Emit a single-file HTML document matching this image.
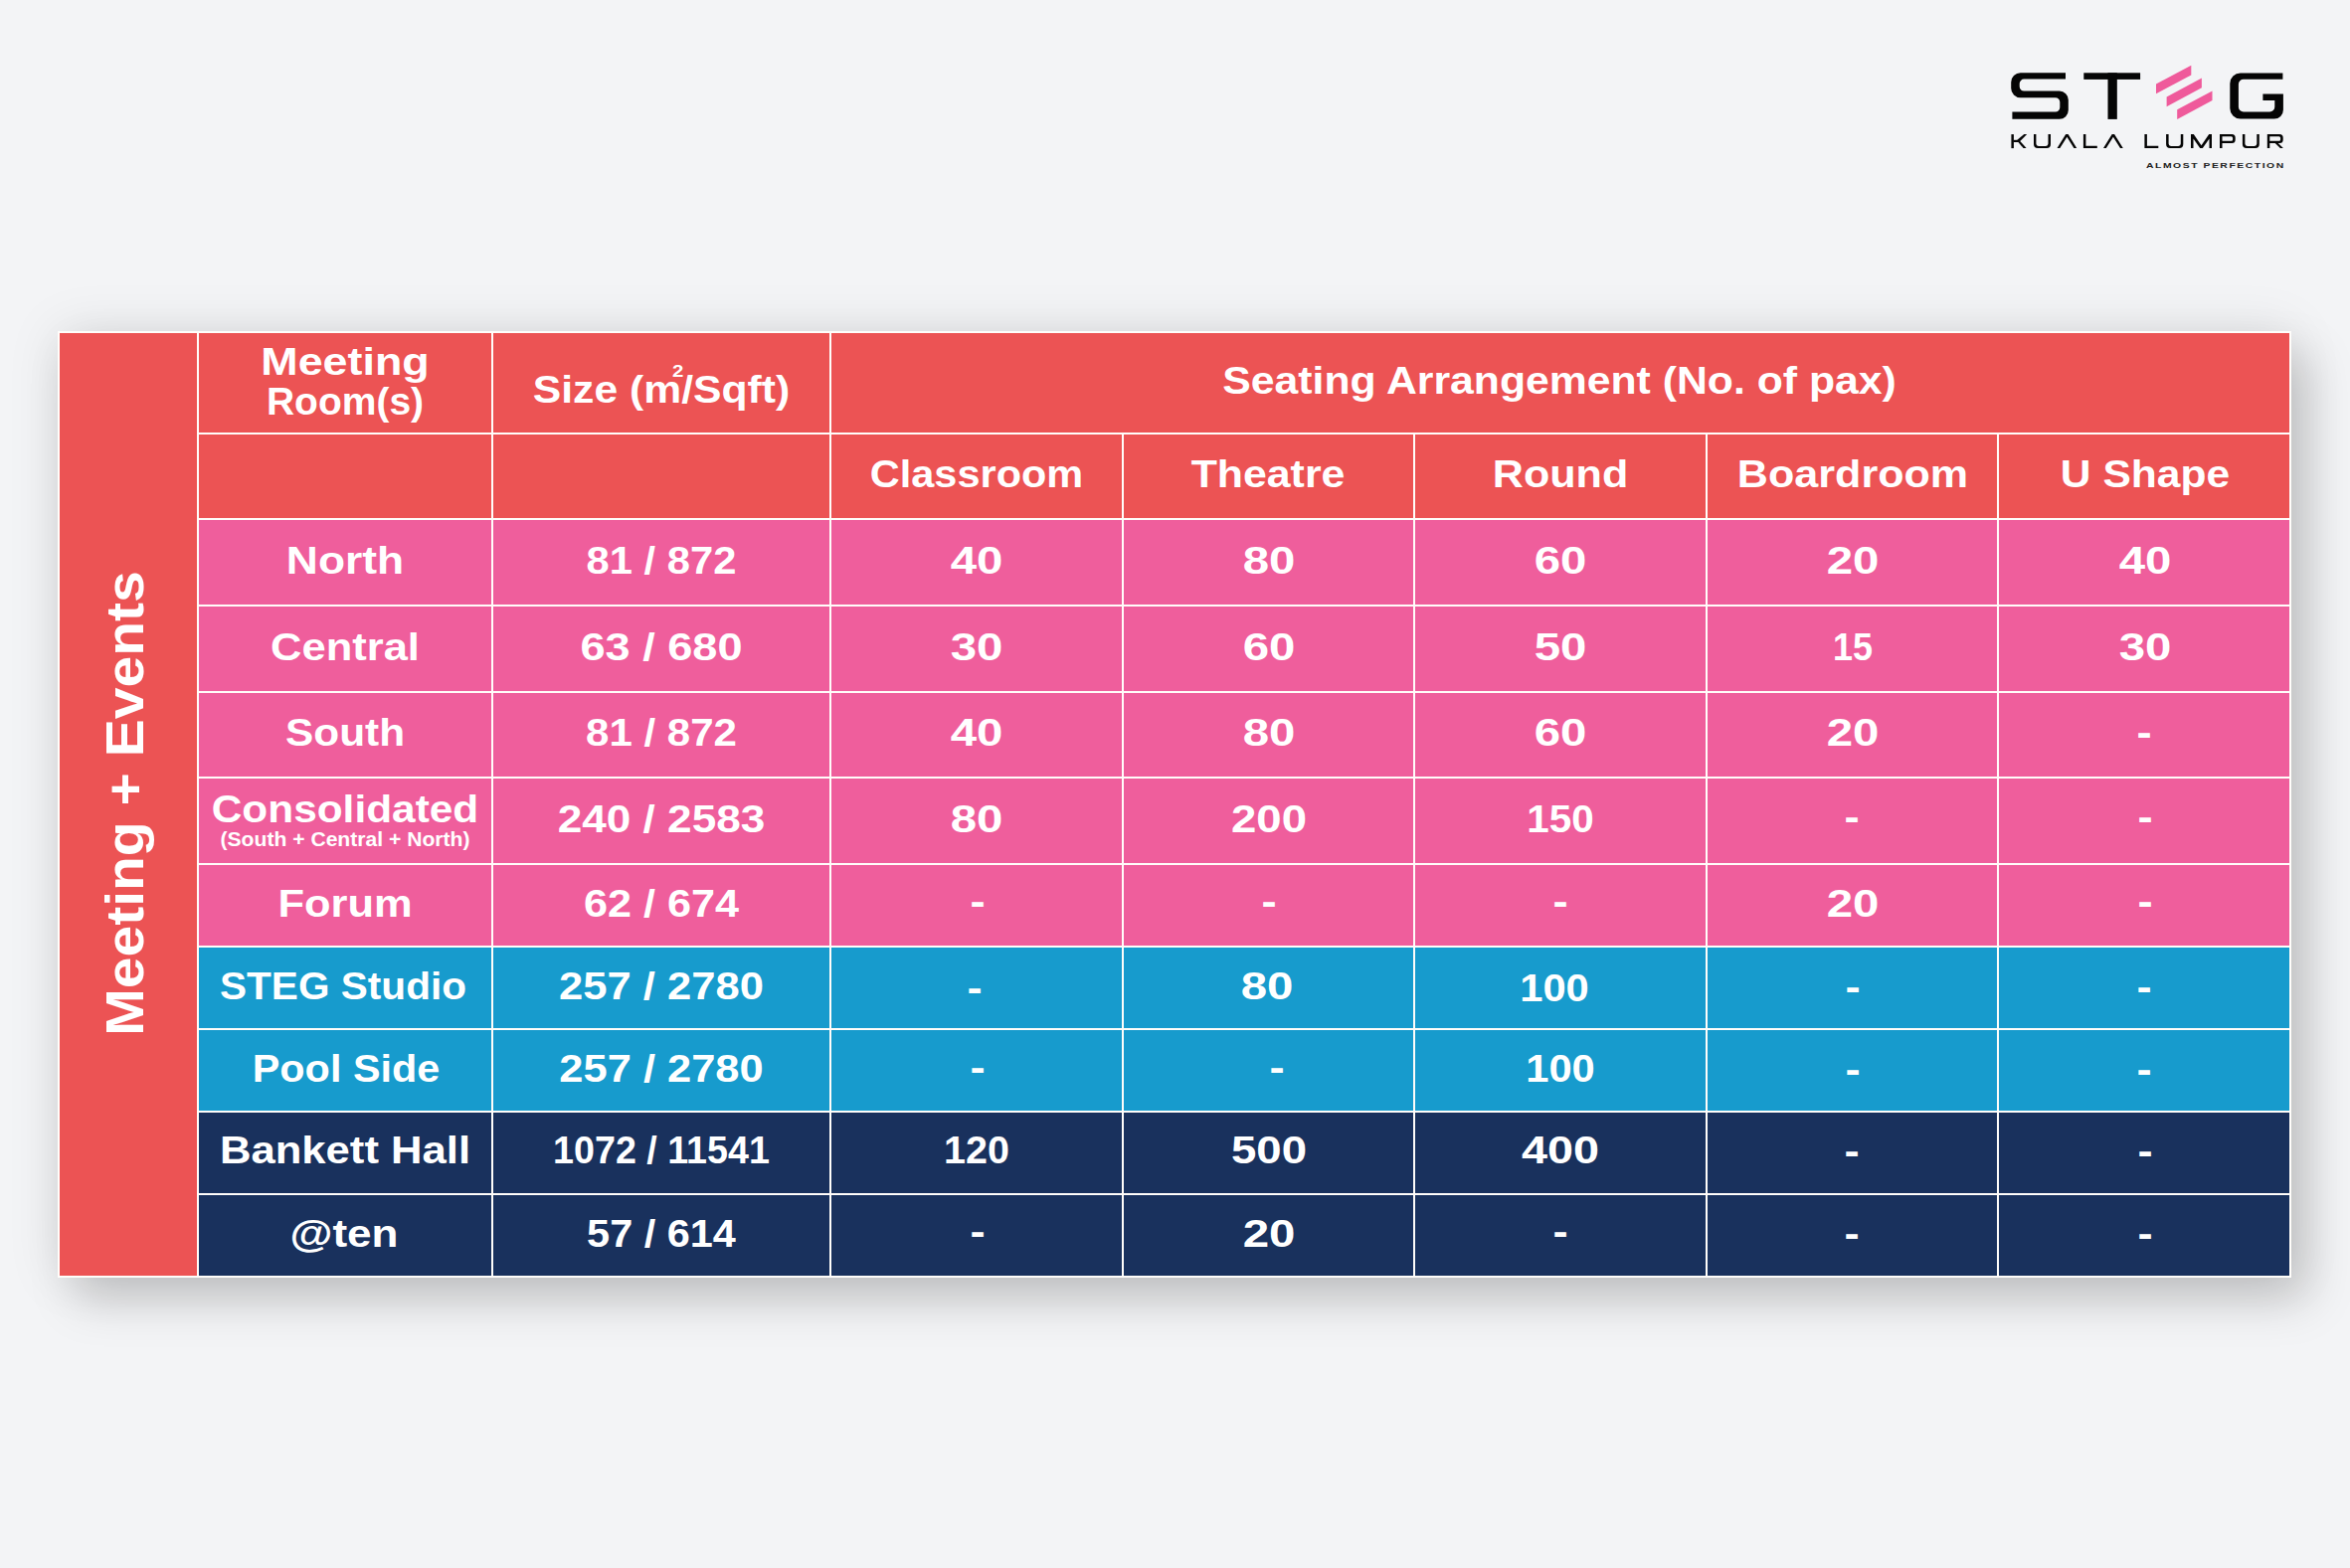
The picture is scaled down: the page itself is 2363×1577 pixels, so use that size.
<!DOCTYPE html><html><head><meta charset="utf-8"><title>STEG Kuala Lumpur - Meeting + Events</title><style>
html,body{margin:0;padding:0}
body{width:2363px;height:1577px;background:#F3F4F6;position:relative;overflow:hidden;font-family:"Liberation Sans",sans-serif}
.tbl{position:absolute;left:58px;top:333px;width:2246px;height:952px;background:#FFFDFA;box-shadow:0 0 50px rgba(0,0,0,0.10),18px 24px 44px rgba(0,0,0,0.17)}
.c{position:absolute}
.t{position:absolute;white-space:nowrap;font-weight:bold;color:#FFFFFF;line-height:normal;transform-origin:50% 50%}
.d{position:absolute;width:11px;height:5px;background:#FFFFFF}

</style></head><body>
<div class="tbl"></div>
<div class="c" style="left:60px;top:335px;width:138px;height:948px;background:#EC5354"></div>
<div class="c" style="left:200px;top:335px;width:294px;height:100px;background:#EC5354"></div>
<div class="c" style="left:496px;top:335px;width:338px;height:100px;background:#EC5354"></div>
<div class="c" style="left:836px;top:335px;width:1466px;height:100px;background:#EC5354"></div>
<div class="c" style="left:200px;top:437px;width:294px;height:84px;background:#EC5354"></div>
<div class="c" style="left:496px;top:437px;width:338px;height:84px;background:#EC5354"></div>
<div class="c" style="left:836px;top:437px;width:292px;height:84px;background:#EC5354"></div>
<div class="c" style="left:1130px;top:437px;width:291px;height:84px;background:#EC5354"></div>
<div class="c" style="left:1423px;top:437px;width:292px;height:84px;background:#EC5354"></div>
<div class="c" style="left:1717px;top:437px;width:291px;height:84px;background:#EC5354"></div>
<div class="c" style="left:2010px;top:437px;width:292px;height:84px;background:#EC5354"></div>
<div class="c" style="left:200px;top:523px;width:294px;height:85px;background:#EF5E9C"></div>
<div class="c" style="left:496px;top:523px;width:338px;height:85px;background:#EF5E9C"></div>
<div class="c" style="left:836px;top:523px;width:292px;height:85px;background:#EF5E9C"></div>
<div class="c" style="left:1130px;top:523px;width:291px;height:85px;background:#EF5E9C"></div>
<div class="c" style="left:1423px;top:523px;width:292px;height:85px;background:#EF5E9C"></div>
<div class="c" style="left:1717px;top:523px;width:291px;height:85px;background:#EF5E9C"></div>
<div class="c" style="left:2010px;top:523px;width:292px;height:85px;background:#EF5E9C"></div>
<div class="c" style="left:200px;top:610px;width:294px;height:85px;background:#EF5E9C"></div>
<div class="c" style="left:496px;top:610px;width:338px;height:85px;background:#EF5E9C"></div>
<div class="c" style="left:836px;top:610px;width:292px;height:85px;background:#EF5E9C"></div>
<div class="c" style="left:1130px;top:610px;width:291px;height:85px;background:#EF5E9C"></div>
<div class="c" style="left:1423px;top:610px;width:292px;height:85px;background:#EF5E9C"></div>
<div class="c" style="left:1717px;top:610px;width:291px;height:85px;background:#EF5E9C"></div>
<div class="c" style="left:2010px;top:610px;width:292px;height:85px;background:#EF5E9C"></div>
<div class="c" style="left:200px;top:697px;width:294px;height:84px;background:#EF5E9C"></div>
<div class="c" style="left:496px;top:697px;width:338px;height:84px;background:#EF5E9C"></div>
<div class="c" style="left:836px;top:697px;width:292px;height:84px;background:#EF5E9C"></div>
<div class="c" style="left:1130px;top:697px;width:291px;height:84px;background:#EF5E9C"></div>
<div class="c" style="left:1423px;top:697px;width:292px;height:84px;background:#EF5E9C"></div>
<div class="c" style="left:1717px;top:697px;width:291px;height:84px;background:#EF5E9C"></div>
<div class="c" style="left:2010px;top:697px;width:292px;height:84px;background:#EF5E9C"></div>
<div class="c" style="left:200px;top:783px;width:294px;height:85px;background:#EF5E9C"></div>
<div class="c" style="left:496px;top:783px;width:338px;height:85px;background:#EF5E9C"></div>
<div class="c" style="left:836px;top:783px;width:292px;height:85px;background:#EF5E9C"></div>
<div class="c" style="left:1130px;top:783px;width:291px;height:85px;background:#EF5E9C"></div>
<div class="c" style="left:1423px;top:783px;width:292px;height:85px;background:#EF5E9C"></div>
<div class="c" style="left:1717px;top:783px;width:291px;height:85px;background:#EF5E9C"></div>
<div class="c" style="left:2010px;top:783px;width:292px;height:85px;background:#EF5E9C"></div>
<div class="c" style="left:200px;top:870px;width:294px;height:81px;background:#EF5E9C"></div>
<div class="c" style="left:496px;top:870px;width:338px;height:81px;background:#EF5E9C"></div>
<div class="c" style="left:836px;top:870px;width:292px;height:81px;background:#EF5E9C"></div>
<div class="c" style="left:1130px;top:870px;width:291px;height:81px;background:#EF5E9C"></div>
<div class="c" style="left:1423px;top:870px;width:292px;height:81px;background:#EF5E9C"></div>
<div class="c" style="left:1717px;top:870px;width:291px;height:81px;background:#EF5E9C"></div>
<div class="c" style="left:2010px;top:870px;width:292px;height:81px;background:#EF5E9C"></div>
<div class="c" style="left:200px;top:953px;width:294px;height:81px;background:#179BCD"></div>
<div class="c" style="left:496px;top:953px;width:338px;height:81px;background:#179BCD"></div>
<div class="c" style="left:836px;top:953px;width:292px;height:81px;background:#179BCD"></div>
<div class="c" style="left:1130px;top:953px;width:291px;height:81px;background:#179BCD"></div>
<div class="c" style="left:1423px;top:953px;width:292px;height:81px;background:#179BCD"></div>
<div class="c" style="left:1717px;top:953px;width:291px;height:81px;background:#179BCD"></div>
<div class="c" style="left:2010px;top:953px;width:292px;height:81px;background:#179BCD"></div>
<div class="c" style="left:200px;top:1036px;width:294px;height:81px;background:#179BCD"></div>
<div class="c" style="left:496px;top:1036px;width:338px;height:81px;background:#179BCD"></div>
<div class="c" style="left:836px;top:1036px;width:292px;height:81px;background:#179BCD"></div>
<div class="c" style="left:1130px;top:1036px;width:291px;height:81px;background:#179BCD"></div>
<div class="c" style="left:1423px;top:1036px;width:292px;height:81px;background:#179BCD"></div>
<div class="c" style="left:1717px;top:1036px;width:291px;height:81px;background:#179BCD"></div>
<div class="c" style="left:2010px;top:1036px;width:292px;height:81px;background:#179BCD"></div>
<div class="c" style="left:200px;top:1119px;width:294px;height:81px;background:#19315D"></div>
<div class="c" style="left:496px;top:1119px;width:338px;height:81px;background:#19315D"></div>
<div class="c" style="left:836px;top:1119px;width:292px;height:81px;background:#19315D"></div>
<div class="c" style="left:1130px;top:1119px;width:291px;height:81px;background:#19315D"></div>
<div class="c" style="left:1423px;top:1119px;width:292px;height:81px;background:#19315D"></div>
<div class="c" style="left:1717px;top:1119px;width:291px;height:81px;background:#19315D"></div>
<div class="c" style="left:2010px;top:1119px;width:292px;height:81px;background:#19315D"></div>
<div class="c" style="left:200px;top:1202px;width:294px;height:81px;background:#19315D"></div>
<div class="c" style="left:496px;top:1202px;width:338px;height:81px;background:#19315D"></div>
<div class="c" style="left:836px;top:1202px;width:292px;height:81px;background:#19315D"></div>
<div class="c" style="left:1130px;top:1202px;width:291px;height:81px;background:#19315D"></div>
<div class="c" style="left:1423px;top:1202px;width:292px;height:81px;background:#19315D"></div>
<div class="c" style="left:1717px;top:1202px;width:291px;height:81px;background:#19315D"></div>
<div class="c" style="left:2010px;top:1202px;width:292px;height:81px;background:#19315D"></div>
<div class="t" style="left:347.0px;top:341.23px;font-size:39.5px;transform:translateX(-50%) scaleX(1.1347)">Meeting</div>
<div class="t" style="left:347.0px;top:380.83px;font-size:39.5px;transform:translateX(-50%) scaleX(0.9871)">Room(s)</div>
<div class="t" style="left:664.5px;top:369.23px;font-size:39.5px;transform:translateX(-50%) scaleX(1.0805)">Size (m/Sqft)</div>
<div class="t" style="left:1568.0px;top:360.03px;font-size:39.5px;transform:translateX(-50%) scaleX(1.0819)">Seating Arrangement (No. of pax)</div>
<div class="t" style="left:982.0px;top:454.23px;font-size:39.5px;transform:translateX(-50%) scaleX(1.0500)">Classroom</div>
<div class="t" style="left:1275.0px;top:454.23px;font-size:39.5px;transform:translateX(-50%) scaleX(1.0845)">Theatre</div>
<div class="t" style="left:1568.6px;top:454.23px;font-size:39.5px;transform:translateX(-50%) scaleX(1.0917)">Round</div>
<div class="t" style="left:1863.0px;top:454.23px;font-size:39.5px;transform:translateX(-50%) scaleX(1.0913)">Boardroom</div>
<div class="t" style="left:2157.0px;top:454.23px;font-size:39.5px;transform:translateX(-50%) scaleX(1.0774)">U Shape</div>
<div class="t" style="left:347.0px;top:541.03px;font-size:39.5px;transform:translateX(-50%) scaleX(1.1230)">North</div>
<div class="t" style="left:665.0px;top:541.03px;font-size:39.5px;transform:translateX(-50%) scaleX(1.0571)">81 / 872</div>
<div class="t" style="left:982.0px;top:541.03px;font-size:39.5px;transform:translateX(-50%) scaleX(1.2000)">40</div>
<div class="t" style="left:1275.5px;top:541.03px;font-size:39.5px;transform:translateX(-50%) scaleX(1.2000)">80</div>
<div class="t" style="left:1569.0px;top:541.03px;font-size:39.5px;transform:translateX(-50%) scaleX(1.2000)">60</div>
<div class="t" style="left:1862.5px;top:541.03px;font-size:39.5px;transform:translateX(-50%) scaleX(1.2000)">20</div>
<div class="t" style="left:2156.5px;top:541.03px;font-size:39.5px;transform:translateX(-50%) scaleX(1.2000)">40</div>
<div class="t" style="left:347.0px;top:627.73px;font-size:39.5px;transform:translateX(-50%) scaleX(1.1015)">Central</div>
<div class="t" style="left:665.0px;top:627.73px;font-size:39.5px;transform:translateX(-50%) scaleX(1.1429)">63 / 680</div>
<div class="t" style="left:982.0px;top:627.73px;font-size:39.5px;transform:translateX(-50%) scaleX(1.2000)">30</div>
<div class="t" style="left:1275.5px;top:627.73px;font-size:39.5px;transform:translateX(-50%) scaleX(1.2000)">60</div>
<div class="t" style="left:1569.0px;top:627.73px;font-size:39.5px;transform:translateX(-50%) scaleX(1.2000)">50</div>
<div class="t" style="left:1862.5px;top:627.73px;font-size:39.5px;transform:translateX(-50%) scaleX(0.9098)">15</div>
<div class="t" style="left:2156.5px;top:627.73px;font-size:39.5px;transform:translateX(-50%) scaleX(1.2000)">30</div>
<div class="t" style="left:347.0px;top:713.83px;font-size:39.5px;transform:translateX(-50%) scaleX(1.0734)">South</div>
<div class="t" style="left:665.0px;top:713.83px;font-size:39.5px;transform:translateX(-50%) scaleX(1.0643)">81 / 872</div>
<div class="t" style="left:982.0px;top:713.83px;font-size:39.5px;transform:translateX(-50%) scaleX(1.2000)">40</div>
<div class="t" style="left:1275.5px;top:713.83px;font-size:39.5px;transform:translateX(-50%) scaleX(1.2000)">80</div>
<div class="t" style="left:1569.0px;top:713.83px;font-size:39.5px;transform:translateX(-50%) scaleX(1.2000)">60</div>
<div class="t" style="left:1862.5px;top:713.83px;font-size:39.5px;transform:translateX(-50%) scaleX(1.2000)">20</div>
<div class="t" style="left:347.0px;top:791.03px;font-size:39.5px;transform:translateX(-50%) scaleX(1.0732)">Consolidated</div>
<div class="t" style="left:665.0px;top:801.33px;font-size:39.5px;transform:translateX(-50%) scaleX(1.1174)">240 / 2583</div>
<div class="t" style="left:982.0px;top:801.33px;font-size:39.5px;transform:translateX(-50%) scaleX(1.2000)">80</div>
<div class="t" style="left:1275.5px;top:801.33px;font-size:39.5px;transform:translateX(-50%) scaleX(1.1531)">200</div>
<div class="t" style="left:1569.0px;top:801.33px;font-size:39.5px;transform:translateX(-50%) scaleX(1.0238)">150</div>
<div class="t" style="left:347.0px;top:885.93px;font-size:39.5px;transform:translateX(-50%) scaleX(1.0992)">Forum</div>
<div class="t" style="left:665.0px;top:885.93px;font-size:39.5px;transform:translateX(-50%) scaleX(1.0937)">62 / 674</div>
<div class="t" style="left:1862.5px;top:885.93px;font-size:39.5px;transform:translateX(-50%) scaleX(1.2000)">20</div>
<div class="t" style="left:344.6px;top:968.63px;font-size:39.5px;transform:translateX(-50%) scaleX(1.0276)">STEG Studio</div>
<div class="t" style="left:665.0px;top:968.63px;font-size:39.5px;transform:translateX(-50%) scaleX(1.1022)">257 / 2780</div>
<div class="t" style="left:1274.2px;top:968.63px;font-size:39.5px;transform:translateX(-50%) scaleX(1.2000)">80</div>
<div class="t" style="left:1563.1px;top:970.63px;font-size:39.5px;transform:translateX(-50%) scaleX(1.0556)">100</div>
<div class="t" style="left:348.0px;top:1051.93px;font-size:39.5px;transform:translateX(-50%) scaleX(1.0477)">Pool Side</div>
<div class="t" style="left:665.0px;top:1051.93px;font-size:39.5px;transform:translateX(-50%) scaleX(1.0995)">257 / 2780</div>
<div class="t" style="left:1569.0px;top:1052.03px;font-size:39.5px;transform:translateX(-50%) scaleX(1.0556)">100</div>
<div class="t" style="left:347.2px;top:1134.43px;font-size:39.5px;transform:translateX(-50%) scaleX(1.1049)">Bankett Hall</div>
<div class="t" style="left:665.0px;top:1134.43px;font-size:39.5px;transform:translateX(-50%) scaleX(0.9531)">1072 / 11541</div>
<div class="t" style="left:982.0px;top:1134.43px;font-size:39.5px;transform:translateX(-50%) scaleX(1.0000)">120</div>
<div class="t" style="left:1275.5px;top:1134.43px;font-size:39.5px;transform:translateX(-50%) scaleX(1.1531)">500</div>
<div class="t" style="left:1569.0px;top:1134.43px;font-size:39.5px;transform:translateX(-50%) scaleX(1.1844)">400</div>
<div class="t" style="left:346.4px;top:1217.93px;font-size:39.5px;transform:translateX(-50%) scaleX(1.1149)">@ten</div>
<div class="t" style="left:665.0px;top:1217.93px;font-size:39.5px;transform:translateX(-50%) scaleX(1.0493)">57 / 614</div>
<div class="t" style="left:1275.5px;top:1217.93px;font-size:39.5px;transform:translateX(-50%) scaleX(1.2000)">20</div>
<div class="t" style="left:676.6px;top:363.61px;font-size:17px;transform:scaleX(1.2)">2</div>
<div class="t" style="left:347.0px;top:833.20px;font-size:19.8px;transform:translateX(-50%) scaleX(1.0674)">(South + Central + North)</div>
<div class="t" style="left:2156.4px;top:714.0px;font-size:39.5px;transform:translateX(-50%) scaleX(1.15)">-</div>
<div class="t" style="left:1862.2px;top:799.3px;font-size:39.5px;transform:translateX(-50%) scaleX(1.15)">-</div>
<div class="t" style="left:2156.6px;top:799.3px;font-size:39.5px;transform:translateX(-50%) scaleX(1.15)">-</div>
<div class="t" style="left:982.6px;top:884.1px;font-size:39.5px;transform:translateX(-50%) scaleX(1.15)">-</div>
<div class="t" style="left:1275.8px;top:884.1px;font-size:39.5px;transform:translateX(-50%) scaleX(1.15)">-</div>
<div class="t" style="left:1569.0px;top:884.1px;font-size:39.5px;transform:translateX(-50%) scaleX(1.15)">-</div>
<div class="t" style="left:2156.6px;top:884.1px;font-size:39.5px;transform:translateX(-50%) scaleX(1.15)">-</div>
<div class="t" style="left:979.5px;top:970.5px;font-size:39.5px;transform:translateX(-50%) scaleX(1.15)">-</div>
<div class="t" style="left:1862.6px;top:969.8px;font-size:39.5px;transform:translateX(-50%) scaleX(1.15)">-</div>
<div class="t" style="left:2156.2px;top:969.8px;font-size:39.5px;transform:translateX(-50%) scaleX(1.15)">-</div>
<div class="t" style="left:982.5px;top:1051.1px;font-size:39.5px;transform:translateX(-50%) scaleX(1.15)">-</div>
<div class="t" style="left:1283.5px;top:1051.1px;font-size:39.5px;transform:translateX(-50%) scaleX(1.15)">-</div>
<div class="t" style="left:1862.6px;top:1052.8px;font-size:39.5px;transform:translateX(-50%) scaleX(1.15)">-</div>
<div class="t" style="left:2156.2px;top:1052.8px;font-size:39.5px;transform:translateX(-50%) scaleX(1.15)">-</div>
<div class="t" style="left:1862.0px;top:1135.3px;font-size:39.5px;transform:translateX(-50%) scaleX(1.15)">-</div>
<div class="t" style="left:2156.6px;top:1135.3px;font-size:39.5px;transform:translateX(-50%) scaleX(1.15)">-</div>
<div class="t" style="left:982.6px;top:1216.4px;font-size:39.5px;transform:translateX(-50%) scaleX(1.15)">-</div>
<div class="t" style="left:1569.0px;top:1215.8px;font-size:39.5px;transform:translateX(-50%) scaleX(1.15)">-</div>
<div class="t" style="left:1862.0px;top:1218.3px;font-size:39.5px;transform:translateX(-50%) scaleX(1.15)">-</div>
<div class="t" style="left:2156.6px;top:1218.3px;font-size:39.5px;transform:translateX(-50%) scaleX(1.15)">-</div>
<div class="t" style="left:126px;top:808px;font-size:52.8px;transform:translate(-50%,-50%) rotate(-90deg) scaleX(1.0806);line-height:1">Meeting + Events</div>
<svg style="position:absolute;left:2000px;top:60px" width="310" height="120" viewBox="2000 60 310 120">
<g fill="#050505">
<path d="M2077 73.2 H2031.7 A9.5 9.5 0 0 0 2022.2 82.7 V88.7 A9.5 9.5 0 0 0 2031.7 98.2 H2066.8 A4.5 4.5 0 0 1 2071.3 102.7 V108 A4.5 4.5 0 0 1 2066.8 112.5 H2023.4 V119.8 H2070.8 A9 9 0 0 0 2079.8 110.8 V100.6 A9 9 0 0 0 2070.8 91.6 H2035.2 A4.5 4.5 0 0 1 2030.7 87.1 V84.1 A4.5 4.5 0 0 1 2035.2 79.6 H2077 Z"/>
<path d="M2295.4 73.4 H2252.8 A10.5 10.5 0 0 0 2242.3 83.9 V109.1 A10.5 10.5 0 0 0 2252.8 119.6 H2286.9 A9 9 0 0 0 2295.9 110.6 V94.4 H2275.4 V101 H2287.3 V107.5 A5 5 0 0 1 2282.3 112.5 H2255.9 A5 5 0 0 1 2250.9 107.5 V84.8 A5 5 0 0 1 2255.9 79.8 H2295.4 Z"/>
<rect x="2095.3" y="73.3" width="56.8" height="6.6"/>
<rect x="2119.5" y="73.3" width="9.3" height="46.6"/>
</g>
<g fill="#EF5A9B">
<polygon points="2168,84.6 2203.3,65.7 2203.3,75.4 2168,94.3"/>
<polygon points="2178.6,97.5 2213.9,78.6 2213.9,88.3 2178.6,107.2"/>
<polygon points="2189.2,110.3 2224.5,91.4 2224.5,101.1 2189.2,120"/>
</g>
<g fill="#050505">
<rect x="2022.4" y="135.1" width="2.5" height="14"/>
<rect x="2024.5" y="140.8" width="5.2" height="2.2"/>
<polygon points="2028.4,140.8 2035.2,135.1 2038.2,135.1 2030.2,143"/>
<polygon points="2028.6,141.9 2030.6,141.2 2037.6,149.1 2034.6,149.1"/>
<path d="M2045 135.1 H2047.4 V144.5 A2.4 2.4 0 0 0 2049.8 146.9 H2057.1 A2.4 2.4 0 0 0 2059.5 144.5 V135.1 H2062 V145 A4 4 0 0 1 2058 149 H2049 A4 4 0 0 1 2045 145 Z"/>
<polygon points="2068.5,149.1 2077.2,135.1 2079.6,135.1 2088.2,149.1 2085.4,149.1 2078.4,137.8 2071.3,149.1"/>
<path d="M2094.9 135.1 H2097.4 V146.8 H2108.8 V149.1 H2094.9 Z"/>
<polygon points="2115,149.1 2123.7,135.1 2126.1,135.1 2134.8,149.1 2132,149.1 2124.9,137.8 2117.8,149.1"/>
<path d="M2156.4 135.1 H2158.9 V146.8 H2170.3 V149.1 H2156.4 Z"/>
<path d="M2178.1 135.1 H2180.6 V144.5 A2.4 2.4 0 0 0 2183 146.9 H2190.4 A2.4 2.4 0 0 0 2192.8 144.5 V135.1 H2195.3 V145 A4 4 0 0 1 2191.3 149 H2182.1 A4 4 0 0 1 2178.1 145 Z"/>
<polygon points="2203,149.1 2203,135.1 2205.8,135.1 2213.5,146.3 2221.2,135.1 2224,135.1 2224,149.1 2221.5,149.1 2221.5,139.6 2214.8,149.1 2212.2,149.1 2205.5,139.6 2205.5,149.1"/>
<path d="M2232 149.1 V135.1 H2244.2 A3.5 3.5 0 0 1 2247.7 138.6 V140.4 A3.5 3.5 0 0 1 2244.2 143.9 H2234.5 V149.1 Z M2234.5 137.3 V141.7 H2243.6 A1.5 1.5 0 0 0 2245.1 140.2 V138.8 A1.5 1.5 0 0 0 2243.6 137.3 Z" fill-rule="evenodd"/>
<path d="M2254.9 135.1 H2257.4 V144.5 A2.4 2.4 0 0 0 2259.8 146.9 H2266.9 A2.4 2.4 0 0 0 2269.3 144.5 V135.1 H2271.8 V145 A4 4 0 0 1 2267.8 149 H2258.9 A4 4 0 0 1 2254.9 145 Z"/>
<path d="M2279.8 149.1 V135.1 H2292.2 A3.5 3.5 0 0 1 2295.7 138.6 V140.4 A3.5 3.5 0 0 1 2292.2 143.9 H2282.3 V149.1 Z M2282.3 137.3 V141.7 H2291.6 A1.5 1.5 0 0 0 2293.1 140.2 V138.8 A1.5 1.5 0 0 0 2291.6 137.3 Z" fill-rule="evenodd"/>
<polygon points="2287.2,143.5 2290.2,143.5 2295.9,149.1 2292.9,149.1"/>
</g>
<text transform="translate(2158 168.9) scale(1.3 1)" x="0" y="0" font-family="Liberation Sans" font-weight="bold" font-size="8" fill="#222222" textLength="106.3" lengthAdjust="spacing">ALMOST PERFECTION</text>
</svg>

</body></html>
